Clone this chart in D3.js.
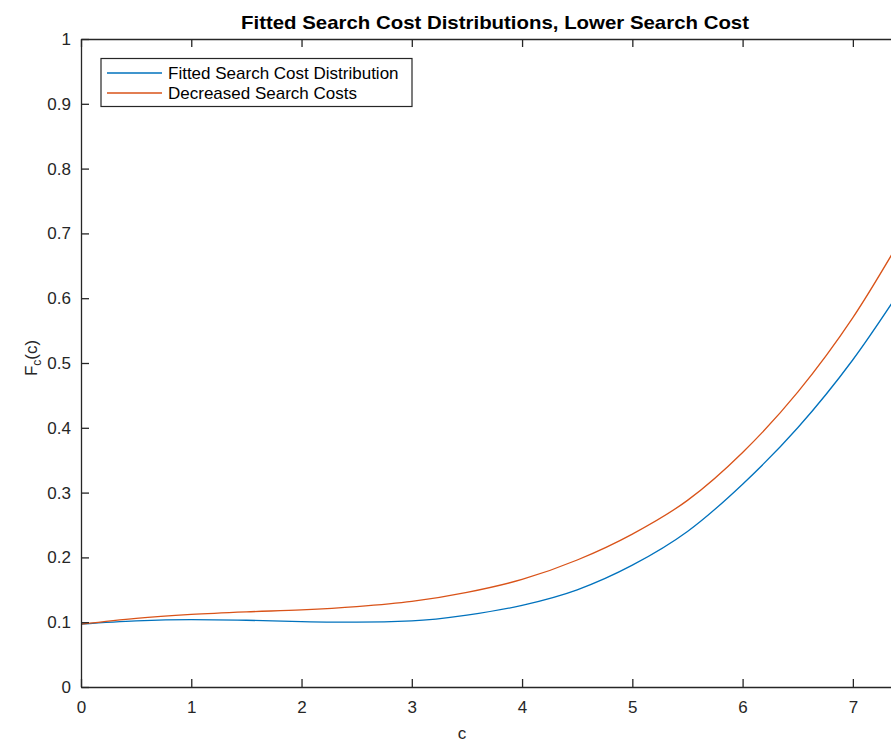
<!DOCTYPE html>
<html>
<head>
<meta charset="utf-8">
<script src="https://cdn.jsdelivr.net/npm/d3@7"></script>
<style>
  html, body { margin: 0; padding: 0; background: #fff; }
  svg { display: block; font-family: "Liberation Sans", Arial, Helvetica, sans-serif; }
</style>
</head>
<body>
<svg id="chart" width="891" height="747"></svg>
<script>
// Search cost grid (c) and the two cumulative distributions F_c(c)
const costs = [0, 0.5, 1.0, 1.5, 2.0, 2.5, 3.0, 3.5, 4.0, 4.5, 5.0, 5.5, 6.0, 6.5, 7.0, 7.5];
const fittedCdf = [0.097, 0.102, 0.104, 0.103, 0.101, 0.100, 0.102, 0.111, 0.126, 0.150, 0.188, 0.240, 0.313, 0.400, 0.505, 0.630];
const decreasedCdf = [0.097, 0.106, 0.112, 0.116, 0.119, 0.124, 0.132, 0.146, 0.166, 0.196, 0.236, 0.288, 0.362, 0.455, 0.570, 0.710];
const seriesNames = ["Fitted Search Cost Distribution", "Decreased Search Costs"];
const xTicks = [0, 1, 2, 3, 4, 5, 6, 7];
const yTicks = [0, 0.1, 0.2, 0.3, 0.4, 0.5, 0.6, 0.7, 0.8, 0.9, 1];

const colors = ["#0072BD", "#D95319"];
const axisColor = "#262626";

const svg = d3.select("#chart");
const plot = { left: 81, top: 39, right: 908, bottom: 687 };

const x = d3.scaleLinear().domain([0, 7.5]).range([plot.left, plot.right]);
const y = d3.scaleLinear().domain([0, 1]).range([plot.bottom, plot.top]);

svg.append("rect").attr("width", 891).attr("height", 747).attr("fill", "#fff");

svg.append("defs").append("clipPath").attr("id", "plotClip")
  .append("rect")
  .attr("x", plot.left).attr("y", plot.top)
  .attr("width", plot.right - plot.left).attr("height", plot.bottom - plot.top);

// Curves
const line = d3.line().x(d => x(d[0])).y(d => y(d[1])).curve(d3.curveMonotoneX);
const series = [fittedCdf, decreasedCdf];
series.forEach((vals, i) => {
  svg.append("path")
    .datum(costs.map((c, k) => [c, vals[k]]))
    .attr("clip-path", "url(#plotClip)")
    .attr("fill", "none")
    .attr("stroke", colors[i])
    .attr("stroke-width", 1.3)
    .attr("d", line);
});

// Axes (inward ticks, box on)
const tickLen = 8;
const axisStyle = g => {
  g.attr("font-family", null);
  g.select(".domain").attr("stroke", axisColor).attr("stroke-width", 1.3);
  g.selectAll(".tick line").attr("stroke", axisColor).attr("stroke-width", 1.3);
  g.selectAll(".tick text").attr("fill", axisColor).attr("font-size", 17);
};

svg.append("g")
  .attr("transform", `translate(0,${plot.bottom})`)
  .call(d3.axisBottom(x).tickValues(xTicks).tickSizeInner(-tickLen).tickSizeOuter(0)
    .tickPadding(14).tickFormat(d3.format("d")))
  .call(axisStyle);

svg.append("g")
  .attr("transform", `translate(0,${plot.top})`)
  .call(d3.axisTop(x).tickValues(xTicks).tickSizeInner(-tickLen).tickSizeOuter(0).tickFormat(""))
  .call(axisStyle);

svg.append("g")
  .attr("transform", `translate(${plot.left},0)`)
  .call(d3.axisLeft(y).tickValues(yTicks).tickSizeInner(-tickLen).tickSizeOuter(0)
    .tickPadding(10).tickFormat(d => d === 0 || d === 1 ? d3.format("d")(d) : d3.format(".1f")(d)))
  .call(axisStyle);

// Title
svg.append("text")
  .attr("x", 495).attr("y", 29)
  .attr("text-anchor", "middle")
  .attr("font-size", 19).attr("font-weight", "bold")
  .attr("textLength", 508).attr("lengthAdjust", "spacingAndGlyphs")
  .attr("fill", "#000")
  .text("Fitted Search Cost Distributions, Lower Search Cost");

// Axis labels
svg.append("text")
  .attr("x", 462).attr("y", 739)
  .attr("text-anchor", "middle")
  .attr("font-size", 17).attr("fill", axisColor)
  .text("c");

const yl = svg.append("text")
  .attr("transform", "translate(37,358) rotate(-90)")
  .attr("text-anchor", "middle")
  .attr("font-size", 17).attr("fill", axisColor);
yl.append("tspan").text("F");
yl.append("tspan").attr("font-size", 12).attr("dy", 4).text("c");
yl.append("tspan").attr("dy", -4).text("(c)");

// Legend
const legend = svg.append("g");
legend.append("rect")
  .attr("x", 101).attr("y", 58.5)
  .attr("width", 311).attr("height", 48)
  .attr("fill", "#fff").attr("stroke", axisColor).attr("stroke-width", 1.2);
seriesNames.forEach((name, i) => {
  const cy = 73 + i * 20;
  legend.append("line")
    .attr("x1", 107).attr("x2", 162).attr("y1", cy).attr("y2", cy)
    .attr("stroke", colors[i]).attr("stroke-width", 1.3);
  legend.append("text")
    .attr("x", 168).attr("y", cy + 6)
    .attr("font-size", 17).attr("fill", "#000")
    .text(name);
});
</script>
</body>
</html>
